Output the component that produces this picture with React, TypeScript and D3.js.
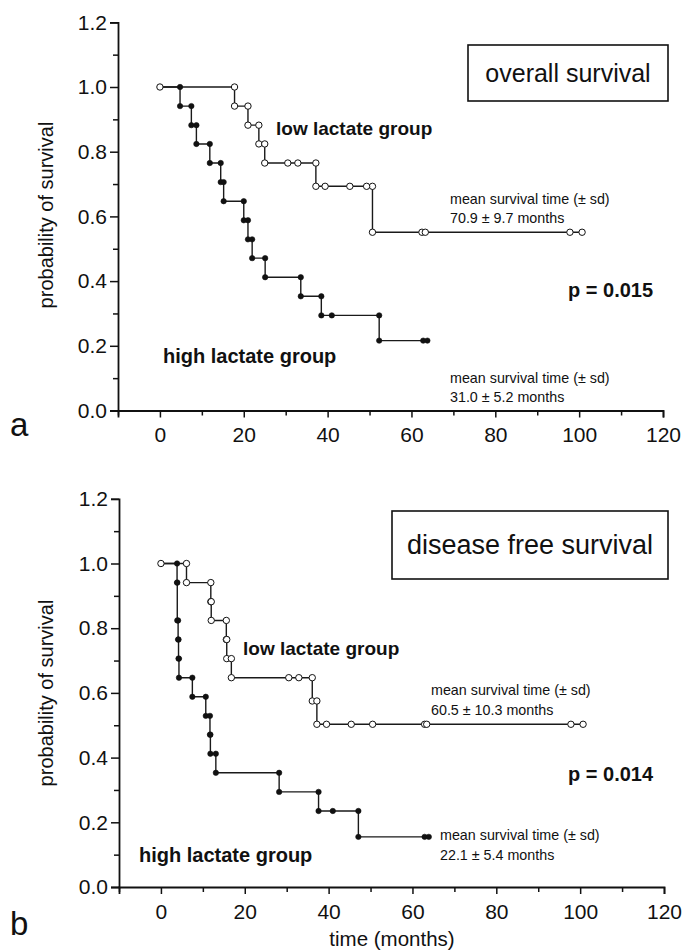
import React, { useEffect, useRef } from 'react';
import * as d3 from 'd3';

const FONT = '"Liberation Sans", Arial, Helvetica, sans-serif';

// axis ticks
const yTicks = [0, 0.2, 0.4, 0.6, 0.8, 1.0, 1.2];
const yMinorTicks = [0.1, 0.3, 0.5, 0.7, 0.9, 1.1];
const xTicks = [0, 20, 40, 60, 80, 100, 120];
const xMinorTicks = [-10, 10, 30, 50, 70, 90, 110];

// panel a: overall survival
const osLowEventTimes = [17.8, 21.0, 23.6, 25.0, 37.2, 50.7];
const osLowEventSurv = [0.941, 0.882, 0.824, 0.765, 0.693, 0.551];
const osLowCensored = [30.5, 32.9, 39.4, 45.3, 49.3, 62.5, 63.3, 97.8, 100.7];
const osHighEventTimes = [4.8, 7.5, 8.7, 11.9, 14.5, 15.2, 20.0, 21.0, 22.0, 25.1, 33.6, 38.5, 52.3];
const osHighEventSurv = [0.941, 0.882, 0.824, 0.765, 0.706, 0.647, 0.588, 0.529, 0.471, 0.412, 0.353, 0.294, 0.216];
const osHighCensored = [41.0, 62.8, 63.8];

// panel b: disease free survival
const dfsLowEventTimes = [6.1, 11.9, 12.0, 15.6, 15.7, 16.8, 36.1, 37.2];
const dfsLowEventSurv = [0.941, 0.882, 0.824, 0.765, 0.706, 0.647, 0.575, 0.503];
const dfsLowCensored = [30.5, 32.9, 39.5, 45.4, 50.5, 62.9, 63.4, 97.8, 100.7];
const dfsHighEventTimes = [3.85, 3.9, 4.1, 4.2, 4.3, 7.5, 10.7, 11.7, 11.8, 13.1, 28.2, 37.6, 47.1];
const dfsHighEventSurv = [0.941, 0.824, 0.765, 0.706, 0.647, 0.588, 0.529, 0.471, 0.412, 0.353, 0.294, 0.235, 0.155];
const dfsHighCensored = [41.0, 62.9, 63.9];

interface Curve {
  times: number[];
  surv: number[];
  censored: number[];
  open: boolean;
}

interface PanelOpts {
  xRange: [number, number];
  yRange: [number, number]; // y of 0 and y of 1.2
  title: string;
  box: [number, number, number, number];
  titleSize: number;
  letter: string;
  letterY: number;
  yLabelY: number;
  low: Curve;
  high: Curve;
  texts: { x: number; y: number; t: string; size: number; bold?: boolean }[];
  xLabel?: string;
}

const survAt = (c: Curve, t: number) => {
  let s = 1;
  c.times.forEach((et, i) => { if (et <= t) s = c.surv[i]; });
  return s;
};

function drawPanel(svg: d3.Selection<SVGSVGElement, unknown, null, undefined>, o: PanelOpts) {
  const x = d3.scaleLinear().domain([-10, 120]).range(o.xRange);
  const y = d3.scaleLinear().domain([0, 1.2]).range(o.yRange);
  const g = svg.append('g');

  // axes
  const yAx = g.append('g').attr('transform', `translate(${o.xRange[0]},0)`)
    .call(d3.axisLeft(y).tickValues(yTicks).tickSize(8).tickPadding(3).tickFormat(d3.format('.1f')));
  g.append('g').attr('transform', `translate(${o.xRange[0]},0)`)
    .call(d3.axisLeft(y).tickValues(yMinorTicks).tickSize(5).tickFormat(() => ''))
    .select('.domain').remove();
  const xAx = g.append('g').attr('transform', `translate(0,${o.yRange[0]})`)
    .call(d3.axisBottom(x).tickValues(xTicks).tickSize(7).tickPadding(10));
  g.append('g').attr('transform', `translate(0,${o.yRange[0]})`)
    .call(d3.axisBottom(x).tickValues(xMinorTicks).tickSize(5).tickFormat(() => ''))
    .select('.domain').remove();
  g.selectAll('.domain').attr('stroke-width', 1.8).attr('stroke', '#111');
  g.selectAll('.tick line').attr('stroke-width', 1.5).attr('stroke', '#111');
  [yAx, xAx].forEach(a => a.selectAll('text')
    .attr('font-family', FONT).attr('font-size', 21).attr('fill', '#111'));

  // curves
  const line = d3.line<[number, number]>().x(d => x(d[0])).y(d => y(d[1])).curve(d3.curveStepAfter);
  [o.low, o.high].forEach(c => {
    const end = d3.max([...c.times, ...c.censored]) as number;
    const pts: [number, number][] = [[0, 1], ...c.times.map((t, i) => [t, c.surv[i]] as [number, number]), [end, c.surv[c.surv.length - 1]]];
    g.append('path').attr('d', line(pts)).attr('fill', 'none')
      .attr('stroke', '#1a1a1a').attr('stroke-width', 1.4);
  });
  [o.low, o.high].forEach(c => {
    const marks: [number, number][] = [];
    if (c.open) marks.push([0, 1]);
    c.times.forEach((t, i) => {
      marks.push([t, i === 0 ? 1 : c.surv[i - 1]]);
      marks.push([t, c.surv[i]]);
    });
    c.censored.forEach(t => marks.push([t, survAt(c, t)]));
    g.selectAll(null).data(marks).enter().append('circle')
      .attr('cx', d => x(d[0])).attr('cy', d => y(d[1]))
      .attr('r', c.open ? 3.2 : 2.7)
      .attr('fill', c.open ? '#fff' : '#111')
      .attr('stroke', '#111').attr('stroke-width', c.open ? 1 : 0.6);
  });

  // title box
  const [bx, by, bw, bh] = o.box;
  g.append('rect').attr('x', bx).attr('y', by).attr('width', bw).attr('height', bh)
    .attr('fill', '#fff').attr('stroke', '#111').attr('stroke-width', 1.6);
  g.append('text').attr('x', bx + bw / 2).attr('y', by + bh / 2 + o.titleSize * 0.35)
    .attr('text-anchor', 'middle').attr('font-family', FONT).attr('font-size', o.titleSize)
    .attr('fill', '#111').text(o.title);

  // y label
  g.append('text').attr('transform', `translate(52.5,${o.yLabelY}) rotate(-90)`)
    .attr('text-anchor', 'middle').attr('font-family', FONT).attr('font-size', 20)
    .attr('fill', '#111').text('probability of survival');

  // letter
  g.append('text').attr('x', 10).attr('y', o.letterY).attr('font-family', FONT)
    .attr('font-size', 33).attr('fill', '#111').text(o.letter);

  o.texts.forEach(t => {
    g.append('text').attr('x', t.x).attr('y', t.y).attr('font-family', FONT)
      .attr('font-size', t.size).attr('font-weight', t.bold ? 'bold' : 'normal')
      .attr('fill', '#111').text(t.t);
  });

  if (o.xLabel) {
    g.append('text').attr('x', 392).attr('y', 946).attr('text-anchor', 'middle')
      .attr('font-family', FONT).attr('font-size', 20.5).attr('fill', '#111').text(o.xLabel);
  }
}

const App: React.FC = () => {
  const svgRef = useRef<SVGSVGElement>(null);

  useEffect(() => {
    if (!svgRef.current) return;
    const svg = d3.select(svgRef.current);
    svg.selectAll('*').remove();

    drawPanel(svg, {
      xRange: [118, 663],
      yRange: [410.5, 22.3],
      title: 'overall survival',
      box: [468, 45, 200, 56],
      titleSize: 25,
      letter: 'a',
      letterY: 436,
      yLabelY: 215,
      low: { times: osLowEventTimes, surv: osLowEventSurv, censored: osLowCensored, open: true },
      high: { times: osHighEventTimes, surv: osHighEventSurv, censored: osHighCensored, open: false },
      texts: [
        { x: 276, y: 135, t: 'low lactate group', size: 19, bold: true },
        { x: 163, y: 363, t: 'high lactate group', size: 20, bold: true },
        { x: 568, y: 297, t: 'p = 0.015', size: 20, bold: true },
        { x: 450, y: 204, t: 'mean survival time (± sd)', size: 14.3 },
        { x: 450, y: 223, t: '70.9 ± 9.7 months', size: 14.3 },
        { x: 450, y: 383, t: 'mean survival time (± sd)', size: 14.3 },
        { x: 450, y: 402, t: '31.0 ± 5.2 months', size: 14.3 },
      ],
    });

    drawPanel(svg, {
      xRange: [119, 664],
      yRange: [887, 498.8],
      title: 'disease free survival',
      box: [392, 511, 276, 68],
      titleSize: 27,
      letter: 'b',
      letterY: 935,
      yLabelY: 693,
      low: { times: dfsLowEventTimes, surv: dfsLowEventSurv, censored: dfsLowCensored, open: true },
      high: { times: dfsHighEventTimes, surv: dfsHighEventSurv, censored: dfsHighCensored, open: false },
      texts: [
        { x: 243, y: 655, t: 'low lactate group', size: 19, bold: true },
        { x: 139, y: 862, t: 'high lactate group', size: 20, bold: true },
        { x: 568, y: 781, t: 'p = 0.014', size: 20, bold: true },
        { x: 431, y: 695, t: 'mean survival time (± sd)', size: 14.3 },
        { x: 431, y: 715, t: '60.5 ± 10.3 months', size: 14.3 },
        { x: 440, y: 840, t: 'mean survival time (± sd)', size: 14.3 },
        { x: 440, y: 860, t: '22.1 ± 5.4 months', size: 14.3 },
      ],
      xLabel: 'time (months)',
    });
  }, []);

  return (
    <svg
      ref={svgRef}
      width={683}
      height={951}
      style={{ position: 'absolute', left: 0, top: 0, background: '#fff' }}
    />
  );
};

export default App;
